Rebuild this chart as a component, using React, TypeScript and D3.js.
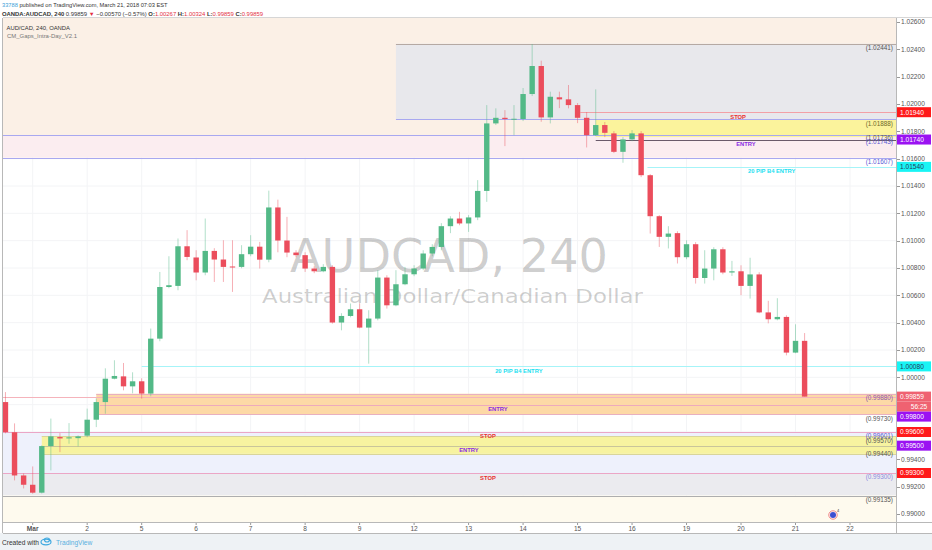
import React from 'react';
import * as d3 from 'd3';

// ---------- DATA ----------
const dayLabels = ["Mar", "2", "5", "6", "7", "8", "9", "12", "13", "14", "15", "16", "19", "20", "21", "22"];
const firstDayBar = 3;
const barsPerDay = 6;

const opens = [0.99819, 0.99598, 0.99282, 0.99214, 0.99156, 0.99497, 0.99563, 0.99553, 0.99555, 0.99573, 0.99690, 0.99819, 0.99990, 1.00007, 0.99934, 0.99971, 0.99881, 1.00283, 1.00661, 1.00669, 1.00959, 1.00877, 1.00767, 1.00925, 1.00862, 1.00811, 1.00808, 1.00901, 1.00956, 1.00861, 1.01243, 1.01001, 1.00913, 1.00894, 1.00796, 1.00776, 1.00808, 1.00401, 1.00449, 1.00498, 1.00364, 1.00430, 1.00730, 1.00527, 1.00681, 1.00754, 1.00796, 1.00906, 1.00954, 1.01106, 1.01162, 1.01126, 1.01170, 1.01364, 1.01858, 1.01899, 1.01890, 1.01890, 1.02073, 1.02278, 1.01902, 1.02049, 1.02034, 1.01992, 1.01899, 1.01772, 1.01846, 1.01785, 1.01650, 1.01741, 1.01785, 1.01479, 1.01179, 1.01028, 1.01055, 1.00879, 1.00974, 1.00727, 1.00796, 1.00937, 1.00767, 1.00776, 1.00669, 1.00753, 1.00475, 1.00425, 1.00442, 1.00181, 1.00267];
const highs = [0.99892, 0.99663, 0.99297, 0.99348, 0.99502, 0.99698, 0.99592, 0.99665, 0.99575, 0.99771, 0.99846, 1.00066, 1.00125, 1.00105, 1.00037, 0.99993, 1.00357, 1.00771, 1.00886, 1.01016, 1.01077, 1.00930, 1.01162, 1.00945, 1.01003, 1.01003, 1.00967, 1.01040, 1.00991, 1.01366, 1.01300, 1.01174, 1.00930, 1.00915, 1.00813, 1.00828, 1.00820, 1.00469, 1.00540, 1.00542, 1.00491, 1.00784, 1.00747, 1.00784, 1.00808, 1.00820, 1.00930, 1.00974, 1.01128, 1.01179, 1.01211, 1.01187, 1.01443, 1.01992, 1.01968, 1.01955, 1.01992, 1.02117, 1.02439, 1.02317, 1.02090, 1.02090, 1.02139, 1.02007, 1.01941, 1.02107, 1.01868, 1.01802, 1.01758, 1.01809, 1.01802, 1.01487, 1.01187, 1.01106, 1.01069, 1.01003, 1.00989, 1.00930, 1.00952, 1.00952, 1.00852, 1.00820, 1.00875, 1.00769, 1.00560, 1.00579, 1.00454, 1.00388, 1.00324];
const lows = [0.99590, 0.99246, 0.99187, 0.99148, 0.99150, 0.99319, 0.99453, 0.99514, 0.99495, 0.99561, 0.99636, 0.99734, 0.99985, 0.99905, 0.99883, 0.99844, 0.99861, 1.00264, 1.00652, 1.00637, 1.00857, 1.00710, 1.00747, 1.00698, 1.00698, 1.00625, 1.00798, 1.00886, 1.00796, 1.00842, 1.00915, 1.00879, 1.00879, 1.00771, 1.00762, 1.00769, 1.00393, 1.00344, 1.00439, 1.00359, 1.00100, 1.00417, 1.00503, 1.00520, 1.00674, 1.00740, 1.00784, 1.00886, 1.00930, 1.01055, 1.01113, 1.01064, 1.01150, 1.01284, 1.01846, 1.01692, 1.01772, 1.01875, 1.02058, 1.01870, 1.01858, 1.01970, 1.01968, 1.01860, 1.01682, 1.01765, 1.01758, 1.01641, 1.01570, 1.01728, 1.01465, 1.01052, 1.00954, 1.00943, 1.00833, 1.00864, 1.00686, 1.00686, 1.00710, 1.00754, 1.00742, 1.00601, 1.00576, 1.00469, 1.00395, 1.00417, 1.00161, 1.00176, 0.99859];
const closes = [0.99599, 0.99282, 0.99214, 0.99156, 0.99497, 0.99568, 0.99553, 0.99561, 0.99568, 0.99690, 0.99819, 0.99990, 1.00010, 0.99934, 0.99971, 0.99881, 1.00283, 1.00661, 1.00674, 1.00959, 1.00881, 1.00767, 1.00925, 1.00862, 1.00808, 1.00808, 1.00901, 1.00956, 1.00861, 1.01243, 1.01001, 1.00913, 1.00894, 1.00796, 1.00776, 1.00808, 1.00401, 1.00449, 1.00498, 1.00364, 1.00430, 1.00730, 1.00527, 1.00681, 1.00754, 1.00796, 1.00906, 1.00954, 1.01106, 1.01162, 1.01126, 1.01170, 1.01364, 1.01858, 1.01899, 1.01890, 1.01892, 1.02073, 1.02278, 1.01902, 1.02053, 1.02034, 1.01992, 1.01899, 1.01772, 1.01846, 1.01789, 1.01650, 1.01741, 1.01785, 1.01479, 1.01179, 1.01028, 1.01052, 1.00879, 1.00974, 1.00727, 1.00796, 1.00937, 1.00767, 1.00776, 1.00669, 1.00753, 1.00475, 1.00425, 1.00442, 1.00181, 1.00267, 0.99859];

const priceTicks = [1.026, 1.024, 1.022, 1.02, 1.018, 1.016, 1.014, 1.012, 1.01, 1.008, 1.006, 1.004, 1.002, 1.0, 0.998, 0.996, 0.994, 0.992, 0.99];

// gap zones: price range, bar where they begin (-1 = before the visible range)
const gapZones = [
  { name: 'upperBeige', hi: 1.0265, lo: 1.0177, fromBar: -1 },
  { name: 'upperPink', hi: 1.0177, lo: 1.01607, fromBar: -1 },
  { name: 'upperBox', hi: 1.02441, lo: 1.01888, fromBar: 43 },
  { name: 'upperYellow', hi: 1.01888, lo: 1.01758, fromBar: 65 },
  { name: 'lowerOrange', hi: 0.9988, lo: 0.9973, fromBar: 10 },
  { name: 'lowerLavender', hi: 0.99601, lo: 0.993, fromBar: -1 },
  { name: 'lowerYellow', hi: 0.9957, lo: 0.9944, fromBar: 4 },
  { name: 'lowerGray', hi: 0.993, lo: 0.99135, fromBar: -1 },
  { name: 'lowerCream', hi: 0.99135, lo: 0.9890, fromBar: -1 },
];

const levelLines = [
  { name: 'boxTop', price: 1.02441, fromBar: 43 },
  { name: 'boxBottom', price: 1.01888, fromBar: 43 },
  { name: 'stop', price: 1.0194, fromBar: 63.3 },
  { name: 'entryDark', price: 1.0174, fromBar: 65 },
  { name: 'gapEdge', price: 1.0177, fromBar: -1 },
  { name: 'gapEdge', price: 1.01607, fromBar: -1 },
  { name: 'pip', price: 1.0154, fromBar: 70.7 },
  { name: 'pip', price: 1.0008, fromBar: 15 },
  { name: 'last', price: 0.99859, fromBar: -1 },
  { name: 'orangeEdge', price: 0.9988, fromBar: 10 },
  { name: 'entryPink', price: 0.998, fromBar: 10.4 },
  { name: 'orangeEdge', price: 0.9973, fromBar: 10 },
  { name: 'pinkLine', price: 0.99601, fromBar: -1 },
  { name: 'yellowEdge', price: 0.9957, fromBar: 4 },
  { name: 'yellowMid', price: 0.995, fromBar: 4 },
  { name: 'yellowEdge', price: 0.9944, fromBar: 4 },
  { name: 'pinkLine', price: 0.993, fromBar: -1 },
  { name: 'grayLine', price: 0.99135, fromBar: -1 },
];

const levelTags = [
  { text: 'STOP', price: 1.0194, fromBar: 63.3, kind: 'stop' },
  { text: 'ENTRY', price: 1.0174, fromBar: 65, kind: 'entry' },
  { text: '20 PIP B4 ENTRY', price: 1.0154, fromBar: 70.7, kind: 'pip' },
  { text: '20 PIP B4 ENTRY', price: 1.0008, fromBar: 15, kind: 'pip' },
  { text: 'ENTRY', price: 0.998, fromBar: 10.4, kind: 'entry' },
  { text: 'STOP', price: 0.99601, fromBar: 8.2, kind: 'stop' },
  { text: 'ENTRY', price: 0.995, fromBar: 4, kind: 'entry' },
  { text: 'STOP', price: 0.993, fromBar: 8.2, kind: 'stop' },
];

const valueTags = [
  { text: '(1.02441)', anchor: 1.02441, kind: 'dark' },
  { text: '(1.01888)', anchor: 1.01888, kind: 'olive' },
  { text: '(1.01736)', anchor: 1.01783, kind: 'dark' },
  { text: '(1.01743)', anchor: 1.01757, kind: 'blue' },
  { text: '(1.01607)', anchor: 1.01607, kind: 'blue' },
  { text: '(0.99880)', anchor: 0.9988, kind: 'violet' },
  { text: '(0.99730)', anchor: 0.9973, kind: 'dark' },
  { text: '(0.99601)', anchor: 0.99601, kind: 'blue' },
  { text: '(0.99570)', anchor: 0.9957, kind: 'dark' },
  { text: '(0.99440)', anchor: 0.9947, kind: 'dark' },
  { text: '(0.99300)', anchor: 0.993, kind: 'lavender' },
  { text: '(0.99135)', anchor: 0.99135, kind: 'dark' },
];

const axisTags = [
  { price: 1.0194, kind: 'red' },
  { price: 1.0174, kind: 'purple' },
  { price: 1.0154, kind: 'cyan' },
  { price: 1.0008, kind: 'cyan' },
  { price: 0.99859, kind: 'last' },
  { price: 0.998, kind: 'purple' },
  { price: 0.996, kind: 'red' },
  { price: 0.995, kind: 'purple' },
  { price: 0.993, kind: 'red' },
];
const countdownText = '56:25';

// ---------- STYLES ----------
const W = 932, H = 550;
const PL = 3, PR = 896, PT = 18, PB = 522;
const GREEN = '#53b987', RED = '#eb4d5c';
const zoneFill: Record<string, string> = {
  upperBeige: '#fbf0e6', upperPink: '#fbedf0', upperBox: '#e8e8ec', upperYellow: '#fbf39c',
  lowerOrange: '#fdd9a6', lowerLavender: '#eef1fc', lowerYellow: '#f7f3a0', lowerGray: '#ebebef', lowerCream: '#fefaee',
};
const lineStyle: Record<string, string> = {
  boxTop: '#b5a9a3', boxBottom: '#a8a8f0', stop: '#f2a0a6', entryDark: '#6a5a6a', gapEdge: '#a8a8f0',
  pip: '#a6f4f8', last: '#f5b3bb', orangeEdge: '#e8b0c0', entryPink: '#eeaabd', pinkLine: '#eba6c6',
  yellowEdge: '#d9d59a', yellowMid: '#c9c59a', grayLine: '#aeaeae',
};
const tagColor: Record<string, string> = { stop: '#e83030', entry: '#8a2be2', pip: '#22e0f0' };
const valueColor: Record<string, string> = { dark: '#555555', olive: '#6f6a2a', blue: '#5a5ad6', violet: '#8a5aa8', lavender: '#8c8ce0' };
const axisFill: Record<string, string> = { red: '#ff1a1a', purple: '#9a12f2', cyan: '#18f4f4', last: '#ef6271' };
const axisText: Record<string, string> = { red: '#ffffff', purple: '#ffffff', cyan: '#243a5a', last: '#ffffff' };
const FONT = "'Liberation Sans', Arial, sans-serif";

export default function App() {
  const x = d3.scaleLinear().domain([firstDayBar, firstDayBar + barsPerDay * 15]).range([32.7, 850]);
  const y = d3.scaleLinear().domain([0.99, 1.026]).range([514, 22]);
  const bodyW = 5.4;

  const candles = opens.map((o, i) => ({ i, o, h: highs[i], l: lows[i], c: closes[i] }));

  // axis tag positions with collision push-down
  const tagPos: { y: number; text: string; kind: string }[] = [];
  let prev = -100;
  axisTags.forEach((t) => {
    const yy = Math.max(y(t.price), prev + 10);
    tagPos.push({ y: yy, text: t.price.toFixed(5), kind: t.kind });
    prev = yy;
    if (t.kind === 'last') {
      prev = yy + 10;
      tagPos.push({ y: prev, text: countdownText, kind: 'last' });
    }
  });
  const visibleTicks = priceTicks.filter((p) => tagPos.every((t) => Math.abs(t.y - y(p)) > 6.5));

  const xs = (b: number) => Math.max(PL, x(b));

  return (
    <svg width={W} height={H} style={{ position: 'fixed', left: 0, top: 0, background: '#fff' }} fontFamily={FONT}>
      <defs>
        <clipPath id="plot"><rect x={PL} y={PT} width={PR - PL} height={PB - PT} /></clipPath>
      </defs>
      <rect x={0} y={0} width={W} height={H} fill="#fff" />
      {/* footer strip */}
      <rect x={0} y={533} width={W} height={17} fill="#eef2f5" />
      {/* header */}
      <text x={2} y={7} fontSize={5.7} fill="#333">
        <tspan fill="#3aa0d8">33788</tspan> published on TradingView.com, March 21, 2018 07:03 EST
      </text>
      <text x={2} y={16} fontSize={5.9} fill="#333">
        <tspan fontWeight="bold">OANDA:AUDCAD, 240</tspan> 0.99859 <tspan fill="#e3303f">▼</tspan> −0.00570 (−0.57%) <tspan fontWeight="bold">O:</tspan><tspan fill="#e3303f">1.00267</tspan> <tspan fontWeight="bold">H:</tspan><tspan fill="#e3303f">1.00324</tspan> <tspan fontWeight="bold">L:</tspan><tspan fill="#e3303f">0.99859</tspan> <tspan fontWeight="bold">C:</tspan><tspan fill="#e3303f">0.99859</tspan>
      </text>

      <g clipPath="url(#plot)">
        {/* grid */}
        {priceTicks.map((p, k) => (
          <line key={'gh' + k} x1={PL} x2={PR} y1={y(p)} y2={y(p)} stroke="#f3f4f6" />
        ))}
        {dayLabels.map((d, k) => (
          <line key={'gv' + k} x1={x(firstDayBar + k * barsPerDay)} x2={x(firstDayBar + k * barsPerDay)} y1={PT} y2={PB} stroke="#f3f4f6" />
        ))}
        {/* zones */}
        {gapZones.map((z, k) => (
          <rect key={'z' + k} x={xs(z.fromBar)} width={PR - xs(z.fromBar)} y={y(z.hi)} height={y(z.lo) - y(z.hi)} fill={zoneFill[z.name]} />
        ))}
        {/* watermark */}
        <text x={449} y={272} fontSize={46} fontFamily="'DejaVu Sans', sans-serif" fill="rgba(0,0,0,0.2)" textAnchor="middle" textLength={318} lengthAdjust="spacingAndGlyphs">AUDCAD, 240</text>
        <text x={452.5} y={303} fontSize={20} fontFamily="'DejaVu Sans', sans-serif" fill="rgba(0,0,0,0.2)" textAnchor="middle" textLength={381} lengthAdjust="spacingAndGlyphs">Australian Dollar/Canadian Dollar</text>
        {/* lines */}
        {levelLines.map((l, k) => (
          <line key={'l' + k} x1={xs(l.fromBar)} x2={PR} y1={Math.round(y(l.price)) + 0.5} y2={Math.round(y(l.price)) + 0.5} stroke={lineStyle[l.name]} strokeWidth={1} />
        ))}
        {/* candles */}
        {candles.map((d) => {
          const up = d.c >= d.o;
          const col = up ? GREEN : RED;
          const cx = x(d.i);
          const top = y(Math.max(d.o, d.c));
          const bot = y(Math.min(d.o, d.c));
          return (
            <g key={'c' + d.i}>
              <line x1={cx} x2={cx} y1={y(d.h)} y2={y(d.l)} stroke={col} strokeOpacity={0.45} strokeWidth={1} />
              <rect x={cx - bodyW / 2} y={top} width={bodyW} height={Math.max(1, bot - top)} fill={col} />
            </g>
          );
        })}
        {/* level tags */}
        {levelTags.map((t, k) => (
          <text key={'t' + k} x={(xs(t.fromBar) + PR) / 2} y={y(t.price) + 6.6} fontSize={5.8} fontWeight="bold" fill={tagColor[t.kind]} textAnchor="middle">{t.text}</text>
        ))}
        {valueTags.map((t, k) => (
          <text key={'v' + k} x={893} y={y(t.anchor) + 6.4} fontSize={6.4} fill={valueColor[t.kind]} textAnchor="end">{t.text}</text>
        ))}
        {/* indicator legend */}
        <text x={6.5} y={29.5} fontSize={6.2} fill="#333" textLength={63.5} lengthAdjust="spacingAndGlyphs">AUD/CAD, 240, OANDA</text>
        <text x={7} y={37.5} fontSize={6.2} fill="#777" textLength={70} lengthAdjust="spacingAndGlyphs">CM_Gaps_Intra-Day_V2.1</text>
        {/* events icon */}
        <circle cx={833} cy={515} r={4.2} fill="#fff" stroke="#f08080" strokeWidth={1} />
        <circle cx={833} cy={515} r={3} fill="#3d4fd1" />
        <text x={837} y={512} fontSize={4} fill="#333">4</text>
      </g>

      {/* plot frame */}
      <line x1={PL - 0.5} x2={PL - 0.5} y1={PT} y2={533} stroke="#b8b8b8" />
      <line x1={PL} x2={W} y1={PT - 0.5} y2={PT - 0.5} stroke="#d6d6d6" />
      <line x1={PR + 0.5} x2={PR + 0.5} y1={PT} y2={533} stroke="#b8b8b8" />
      <line x1={PL} x2={W} y1={PB + 0.5} y2={PB + 0.5} stroke="#b8b8b8" />
      <line x1={PL} x2={W} y1={533.5} y2={533.5} stroke="#b8b8b8" />

      {/* price axis */}
      {visibleTicks.map((p, k) => (
        <g key={'pt' + k}>
          <line x1={PR + 1} x2={PR + 4} y1={Math.round(y(p)) + 0.5} y2={Math.round(y(p)) + 0.5} stroke="#999" />
          <text x={901} y={y(p) + 2.3} fontSize={6.6} fill="#555">{p.toFixed(5)}</text>
        </g>
      ))}
      {tagPos.map((t, k) => (
        <g key={'at' + k}>
          <rect x={PR + 1} y={t.y - 5} width={34} height={10} fill={axisFill[t.kind]} />
          <text x={t.text.length === 5 ? 919 : 900} y={t.y + 2.4} fontSize={6.6} fill={axisText[t.kind]} textAnchor={t.text.length === 5 ? 'middle' : 'start'}>{t.text}</text>
        </g>
      ))}

      {/* time axis */}
      {dayLabels.map((d, k) => (
        <g key={'dl' + k}>
          <line x1={x(firstDayBar + k * barsPerDay)} x2={x(firstDayBar + k * barsPerDay)} y1={PB + 1} y2={PB + 3} stroke="#999" />
          <text x={x(firstDayBar + k * barsPerDay)} y={530.5} fontSize={6.6} fill="#555" textAnchor="middle" fontWeight={d === 'Mar' ? 'bold' : 'normal'}>{d}</text>
        </g>
      ))}

      {/* footer */}
      <text x={2} y={544.5} fontSize={6.6} fill="#333">Created with</text>
      <g transform="translate(46,542)">
        <ellipse cx={0} cy={0} rx={5} ry={2.8} fill="none" stroke="#3fa9e0" strokeWidth={1.2} />
        <ellipse cx={1} cy={-2} rx={2.5} ry={2} fill="none" stroke="#3fa9e0" strokeWidth={1.2} />
      </g>
      <text x={56} y={544.5} fontSize={6.6} fill="#58b0e0">TradingView</text>
    </svg>
  );
}
